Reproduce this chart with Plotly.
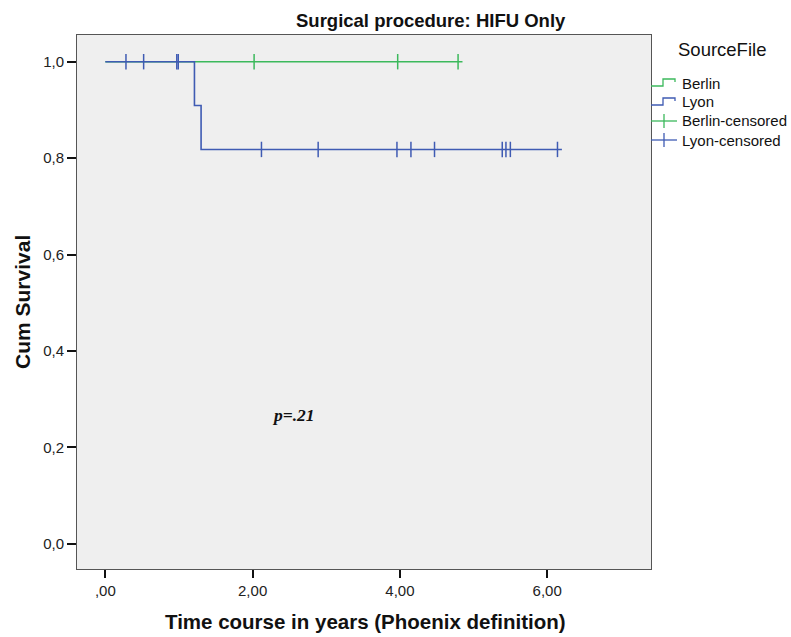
import plotly.graph_objects as go

# ---- data ----
berlin_times = [0.0, 4.85]
berlin_surv = [1.0, 1.0]
berlin_cens_times = [2.02, 3.97, 4.79]
berlin_cens_surv = [1.0, 1.0, 1.0]

lyon_times = [0.0, 1.21, 1.30, 6.20]
lyon_surv = [1.0, 0.909, 0.818, 0.818]
lyon_cens_times = [0.28, 0.52, 0.97, 0.99, 2.12, 2.89, 3.96, 4.15, 4.47, 5.39, 5.44, 5.50, 6.14]
lyon_cens_surv = [1.0, 1.0, 1.0, 1.0, 0.818, 0.818, 0.818, 0.818, 0.818, 0.818, 0.818, 0.818, 0.818]

x_tickvals = [0, 2, 4, 6]
x_ticktext = [",00", "2,00", "4,00", "6,00"]
y_tickvals = [0.0, 0.2, 0.4, 0.6, 0.8, 1.0]
y_ticktext = ["0,0", "0,2", "0,4", "0,6", "0,8", "1,0"]

legend_names = ["Berlin", "Lyon", "Berlin-censored", "Lyon-censored"]

GREEN = "#3cb95c"
BLUE = "#3f5bb3"
FONT = "Liberation Sans, Arial, sans-serif"

# plot-area geometry in pixels (for manual legend placement)
L, R, T, B = 77, 651, 35, 569
W, H = R - L, B - T


def px(xp):
    return (xp - L) / W


def py(yp):
    return (B - yp) / H


fig = go.Figure()
fig.add_trace(go.Scatter(x=berlin_times, y=berlin_surv, mode="lines", line_shape="hv",
                         line=dict(color=GREEN, width=1.6), name="Berlin"))
fig.add_trace(go.Scatter(x=lyon_times, y=lyon_surv, mode="lines", line_shape="hv",
                         line=dict(color=BLUE, width=1.6), name="Lyon"))
fig.add_trace(go.Scatter(x=berlin_cens_times, y=berlin_cens_surv, mode="markers",
                         marker=dict(symbol="line-ns", size=11, line=dict(color=GREEN, width=1.5)),
                         name="Berlin-censored"))
fig.add_trace(go.Scatter(x=lyon_cens_times, y=lyon_cens_surv, mode="markers",
                         marker=dict(symbol="line-ns", size=11, line=dict(color=BLUE, width=1.5)),
                         name="Lyon-censored"))

fig.update_layout(
    width=791, height=637,
    margin=dict(l=L, r=791 - R, t=T, b=637 - B, autoexpand=False),
    paper_bgcolor="white", plot_bgcolor="#efefef",
    font=dict(family=FONT, size=12, color="#222"),
    showlegend=False,
)
fig.update_xaxes(range=[-0.385, 7.41], tickvals=x_tickvals, ticktext=x_ticktext,
                 showgrid=False, zeroline=False, showline=True, linecolor="#555", linewidth=1,
                 mirror=True, ticks="outside", ticklen=8, tickwidth=2, tickcolor="#111",
                 tickfont=dict(size=15, color="#222"))
fig.update_yaxes(range=[-0.0525, 1.0554], tickvals=y_tickvals, ticktext=y_ticktext,
                 showgrid=False, zeroline=False, showline=True, linecolor="#555", linewidth=1,
                 mirror=True, ticks="outside", ticklen=9, tickwidth=2, tickcolor="#111",
                 tickfont=dict(size=15, color="#222"))

# ---- manual legend ----
fig.add_annotation(text="SourceFile", xref="paper", yref="paper", x=px(722), y=py(50),
                   xanchor="center", yanchor="middle", showarrow=False,
                   font=dict(size=18.5, color="#111", family=FONT))
legend_colors = [GREEN, BLUE, GREEN, BLUE]
for i, (name, col) in enumerate(zip(legend_names, legend_colors)):
    c = 83 + 19 * i
    fig.add_annotation(text=name, xref="paper", yref="paper", x=px(680), y=py(c),
                       xanchor="left", yanchor="middle", showarrow=False,
                       font=dict(size=15, color="#111", family=FONT))
    if i < 2:
        path = (f"M {px(651)} {py(c + 3)} L {px(663)} {py(c + 3)} L {px(663)} {py(c - 4)} "
                f"L {px(675)} {py(c - 4)} L {px(675)} {py(c - 1)}")
        fig.add_shape(type="path", path=path, xref="paper", yref="paper",
                      line=dict(color=col, width=1.3))
    else:
        fig.add_shape(type="line", xref="paper", yref="paper", x0=px(651), x1=px(677),
                      y0=py(c), y1=py(c), line=dict(color=col, width=1.3))
        fig.add_shape(type="line", xref="paper", yref="paper", x0=px(664), x1=px(664),
                      y0=py(c - 7), y1=py(c + 7), line=dict(color=col, width=1.3))

fig.add_annotation(text="<b>Surgical procedure: HIFU Only</b>", xref="paper", yref="paper",
                   x=px(431), y=py(20), xanchor="center", yanchor="middle", showarrow=False,
                   font=dict(size=18.5, color="#111", family=FONT))
fig.add_annotation(text="<b>Cum Survival</b>", xref="paper", yref="paper",
                   x=px(22), y=0.5, xanchor="center", yanchor="middle", textangle=-90,
                   showarrow=False, font=dict(size=21, color="#111", family=FONT))
fig.add_annotation(text="<b>Time course in years (Phoenix definition)</b>", xref="paper", yref="paper",
                   x=px(365), y=py(621), xanchor="center", yanchor="middle",
                   showarrow=False, font=dict(size=20.5, color="#111", family=FONT))
fig.add_annotation(text="<b><i>p=.21</i></b>", xref="x", yref="y", x=2.55, y=0.267,
                   xanchor="center", yanchor="middle", showarrow=False,
                   font=dict(size=17.5, color="#111", family="Liberation Serif, Times New Roman, serif"))

fig.write_html("out.html")
